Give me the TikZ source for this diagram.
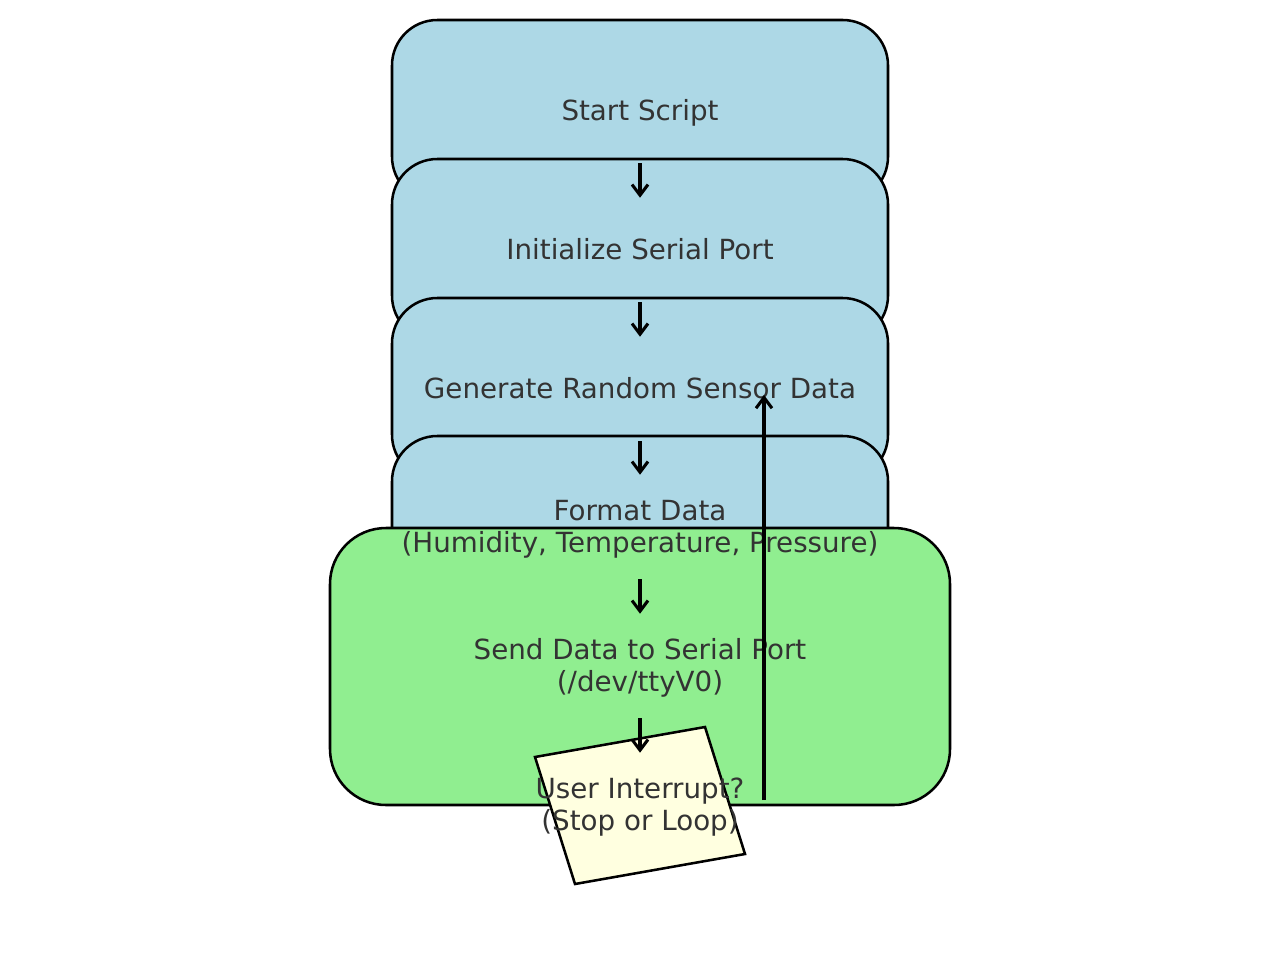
\documentclass[tikz,border=0pt]{standalone}
\usepackage{fontspec}
\setmainfont{DejaVu Sans}
\usetikzlibrary{arrows.meta}
\definecolor{boxblue}{HTML}{ADD8E6}
\definecolor{boxgreen}{HTML}{90EE90}
\definecolor{boxyellow}{HTML}{FFFFE0}
\definecolor{txt}{HTML}{333333}
\newcommand{\lbltext}[1]{\raisebox{-2.25pt}[\height][\depth]{\begin{tabular}{@{}c@{}}#1\end{tabular}}}
\tikzset{
  bluebox/.style={draw=black, line width=1.9pt, fill=boxblue, rounded corners=34pt,
    minimum width=372pt, minimum height=136.5pt, inner sep=0pt},
  greenbox/.style={draw=black, line width=1.9pt, fill=boxgreen, rounded corners=42pt,
    minimum width=465pt, minimum height=207.75pt, inner sep=0pt},
  label/.style={text=txt, font=\fontsize{20.8}{24}\selectfont,
    minimum height=78pt, inner sep=0pt},
  arr/.style={draw=black, line width=2.3pt, -{Straight Barb[length=8pt,width=12pt,line width=2.3pt]}},
}
\begin{document}
\begin{tikzpicture}[x=0.75pt,y=-0.75pt]
\useasboundingbox (0,0) rectangle (1280,964);
% boxes
\node[bluebox] (b1) at (640,111) {};
\node[bluebox] (b2) at (640,250) {};
\node[bluebox] (b3) at (640,389) {};
\node[bluebox] (b4) at (640,527) {};
\node[greenbox] (b5) at (640,666.5) {};
\draw[line width=1.9pt, fill=boxyellow] (535,757) -- (705,727) -- (745,854) -- (575,884) -- cycle;
% labels
\node[label] (t1) at (640,111) {\lbltext{Start Script}};
\node[label] (t2) at (640,250) {\lbltext{Initialize Serial Port}};
\node[label] (t3) at (640,389) {\lbltext{Generate Random Sensor Data}};
\node[label] (t4) at (640,527) {\lbltext{Format Data\\(Humidity, Temperature, Pressure)}};
\node[label] (t5) at (640,666) {\lbltext{Send Data to Serial Port\\(/dev/ttyV0)}};
\node[label] (t6) at (640,805) {\lbltext{User Interrupt?\\(Stop or Loop)}};
% connectors
\draw[arr] (t1) -- (t2);
\draw[arr] (t2) -- (t3);
\draw[arr] (t3) -- (t4);
\draw[arr] (t4) -- (t5);
\draw[arr] (t5) -- (t6);
\coordinate (loopS) at (764,800);
\coordinate (loopE) at (764,395);
\draw[arr] (loopS) -- (loopE);
\end{tikzpicture}
\end{document}
